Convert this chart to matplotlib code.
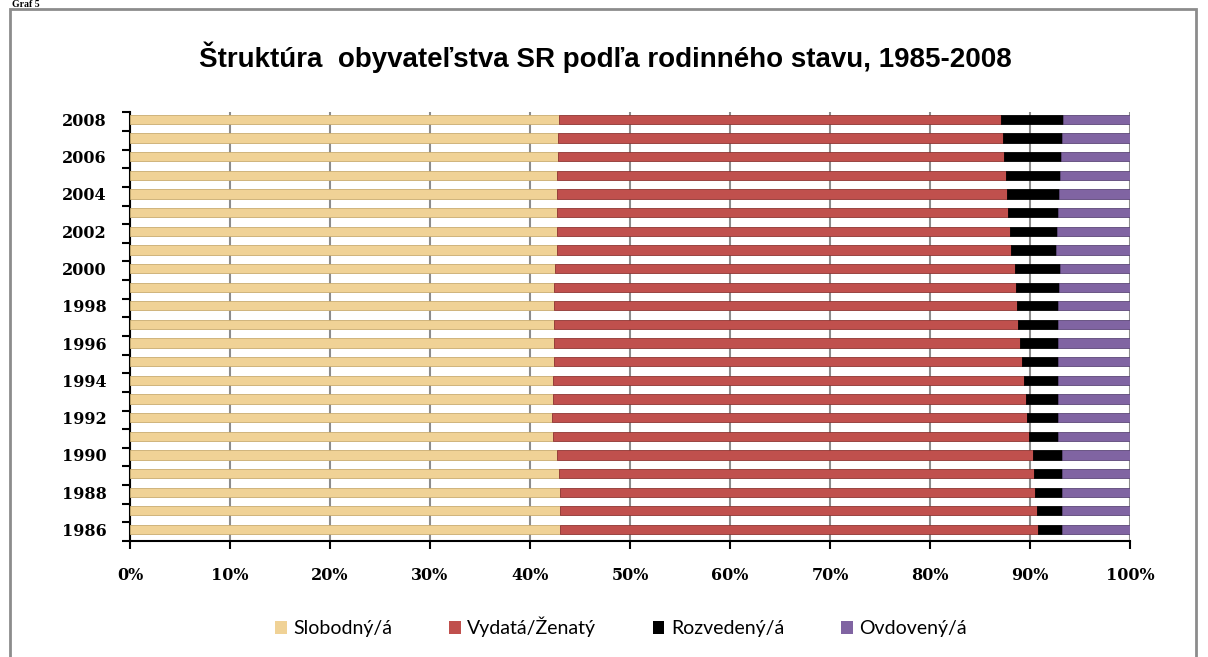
import matplotlib.pyplot as plt
from matplotlib.patches import Rectangle

# roky (zdola nahor)
years = list(range(1986, 2009))

# podiely v % (odcitane z grafu), od 1986 po 2008
slobodni = [43.0, 43.0, 43.0, 42.9, 42.7, 42.3, 42.2, 42.3, 42.3, 42.4, 42.4, 42.4,
            42.4, 42.4, 42.5, 42.7, 42.7, 42.7, 42.7, 42.7, 42.8, 42.8, 42.9]
# hranica zenati/rozvedeni
hranica_rozv = [90.8, 90.7, 90.5, 90.4, 90.3, 89.9, 89.7, 89.6, 89.4, 89.2, 89.0, 88.8,
                88.7, 88.6, 88.5, 88.1, 88.0, 87.8, 87.7, 87.6, 87.4, 87.3, 87.1]
# hranica rozvedeni/ovdoveni
hranica_ovd = [93.2, 93.2, 93.2, 93.2, 93.2, 92.8, 92.8, 92.8, 92.8, 92.8, 92.8, 92.8,
               92.8, 92.9, 93.0, 92.6, 92.7, 92.8, 92.9, 93.0, 93.1, 93.2, 93.3]

zenati = [h - s for h, s in zip(hranica_rozv, slobodni)]
rozvedeni = [o - h for o, h in zip(hranica_ovd, hranica_rozv)]
ovdoveni = [100 - o for o in hranica_ovd]

series = [
    ('Slobodný/á', slobodni, '#F0D296', '#C9AC70'),
    ('Vydatá/Ženatý', zenati, '#C0504D', '#8E3532'),
    ('Rozvedený/á', rozvedeni, '#000000', '#000000'),
    ('Ovdovený/á', ovdoveni, '#8064A2', '#5C4778'),
]

fig = plt.figure(figsize=(12.08, 6.57), dpi=100)
W, H = 1208, 657
ax = fig.add_axes([130 / W, 1 - 541 / H, 1000 / W, (541 - 112) / H])

pos = list(range(len(years)))
left = [0] * len(years)
for name, vals, col, edge in series:
    ax.barh(pos, vals, left=left, height=0.5, color=col, edgecolor=edge,
            linewidth=0.6, label=name, zorder=3)
    left = [a + b for a, b in zip(left, vals)]

ax.set_xlim(0, 100)
ax.set_ylim(-0.55, 22.4)
ax.set_xticks(range(0, 101, 10))
ax.set_xticklabels([f'{v}%' for v in range(0, 101, 10)],
                   fontfamily='DejaVu Serif', fontweight='bold', fontsize=11.5)
ax.set_yticks([i for i in pos if years[i] % 2 == 0])
ax.set_yticklabels([str(y) for y in years if y % 2 == 0],
                   fontfamily='DejaVu Serif', fontweight='bold', fontsize=11.5)
ax.set_yticks([i - 0.62 for i in range(len(years) + 1)], minor=True)
ax.tick_params(axis='y', which='major', length=0, pad=17)
ax.tick_params(axis='y', which='minor', length=6, width=1.5, color='black')
ax.tick_params(axis='x', length=6, width=1.5, color='black', pad=13)

ax.grid(axis='x', color='#8C8C8C', linewidth=1.5, zorder=0)
for s in ['top', 'right']:
    ax.spines[s].set_visible(False)
ax.spines['left'].set_linewidth(1.5)
ax.spines['bottom'].set_linewidth(1.5)

fig.text(605 / W, 1 - 57 / H, 'Štruktúra  obyvateľstva SR podľa rodinného stavu, 1985-2008',
         ha='center', va='center', fontsize=20, fontweight='bold',
         fontfamily='Liberation Sans')

leg = fig.legend(loc='center', bbox_to_anchor=(621 / W, 1 - 627 / H), ncol=4,
                 frameon=False, prop={'family': 'Lato', 'size': 14},
                 handlelength=0.6, handleheight=0.6, handletextpad=0.35,
                 columnspacing=2.9)
for h in leg.legend_handles:
    h.set_linewidth(0)

# ramik okolo grafu a nadpis nad nim
fig.patches.append(Rectangle((10 / W, -0.05), 1186 / W, 1.05 - 9 / H,
                             transform=fig.transFigure, fill=False,
                             edgecolor='#8C8C8C', linewidth=2))
fig.text(12 / W, 1 - 7 / H, 'Graf 5', fontsize=7, fontweight='bold',
         fontfamily='Liberation Serif', va='baseline')

fig.savefig('out.png', dpi=100)
